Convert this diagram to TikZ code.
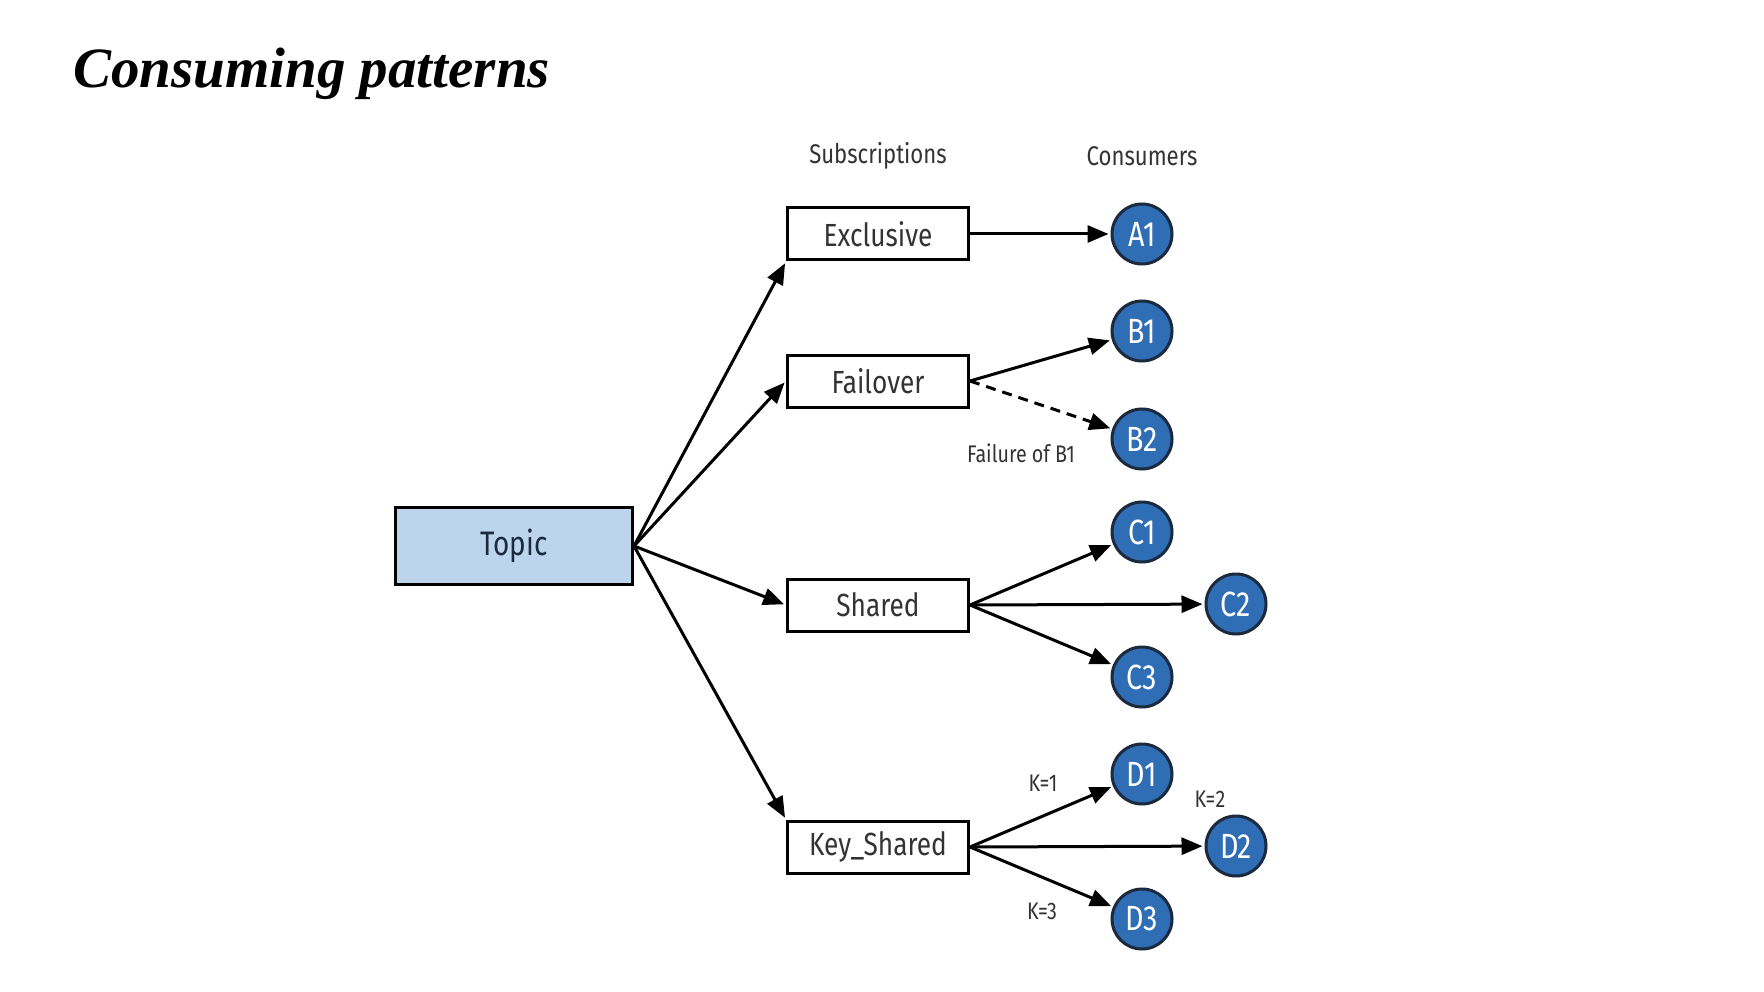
\documentclass[tikz,border=0pt]{standalone}
\usepackage{fontspec}
\setmainfont{Fira Sans}[FakeStretch=0.82]
\newfontfamily\titlefont{Liberation Serif}
\usetikzlibrary{arrows.meta,positioning}
\definecolor{topicblue}{HTML}{BDD5EC}
\definecolor{consumerblue}{HTML}{2F6DB5}
\definecolor{consumerline}{HTML}{1B2A3E}
\definecolor{inkgray}{HTML}{333333}
\tikzstyle{subbox}=[draw=black,line width=3pt,minimum width=181pt,minimum height=52pt,inner sep=0pt,text=inkgray,font=\fontsize{32}{34}\selectfont]
\tikzstyle{consumer}=[circle,draw=consumerline,fill=consumerblue,line width=3pt,minimum size=60pt,inner sep=0pt,text=white,font=\fontsize{35}{37}\selectfont]
\tikzstyle{feed}=[-{Triangle[length=21pt,width=17pt]},line width=3pt,shorten >=2pt]
\tikzstyle{note}=[text=inkgray,font=\fontsize{24}{26}\selectfont]
\newcommand{\consumer}[3]{% name, position, label
	\node[consumer] (#1) at (#2) {#3};
}
\begin{document}
\begin{tikzpicture}[x=1pt,y=-1pt]
	\fill[white] (0,0) rectangle (1764,992);
	\useasboundingbox (0,0) rectangle (1764,992);
	\node[anchor=base west,inner sep=0pt,font=\titlefont\bfseries\itshape\fontsize{57}{60}\selectfont] (title) at (73,88) {Consuming patterns};
	% topic and subscriptions
	\node[draw=black,fill=topicblue,line width=3pt,minimum width=237pt,minimum height=77pt,text=consumerline,font=\fontsize{34}{36}\selectfont] (topic) at (514,546) {Topic};
	\node[subbox] (exclusive) at (878,234) {Exclusive};
	\node[subbox] (failover) at (878,381) {Failover};
	\node[subbox] (shared) at (878,605) {Shared};
	\node[subbox] (keyshared) at (878,847) {Key\_Shared};
	\node[note,font=\fontsize{27}{29}\selectfont] (subhead) at (878,156) {Subscriptions};
	\node[note,font=\fontsize{27}{29}\selectfont] (conhead) at (1142,156) {Consumers};
	% consumers
	\consumer{a1}{1142,234}{A1}
	\consumer{b1}{1142,331}{B1}
	\consumer{b2}{1142,439}{B2}
	\consumer{c1}{1142,532}{C1}
	\consumer{c2}{1236,604}{C2}
	\consumer{c3}{1142,677}{C3}
	\consumer{d1}{1142,774}{D1}
	\consumer{d2}{1236,846}{D2}
	\consumer{d3}{1142,919}{D3}
	% topic to subscriptions
	\draw[feed] (topic.east) -- (exclusive.south west);
	\draw[feed] (topic.east) -- (failover.west);
	\draw[feed] (topic.east) -- (shared.west);
	\draw[feed] (topic.east) -- (keyshared.north west);
	% subscriptions to consumers
	\draw[feed] (exclusive.east) -- (a1);
	\draw[feed] (failover.east) -- (b1);
	\draw[feed,dash pattern=on 10pt off 7pt] (failover.east) -- (b2);
	\foreach \c in {c1,c2,c3} {
		\draw[feed] (shared.east) -- (\c);
	}
	\foreach \d in {d1,d2,d3} {
		\draw[feed] (keyshared.east) -- (\d);
	}
	% labels
	\node[note] (failnote) at (1021,453) {Failure of B1};
	\node[note] (k1) at (1043,783) {K=1};
	\node[note] (k2) at (1210,799) {K=2};
	\node[note] (k3) at (1042,911) {K=3};
\end{tikzpicture}
\end{document}
